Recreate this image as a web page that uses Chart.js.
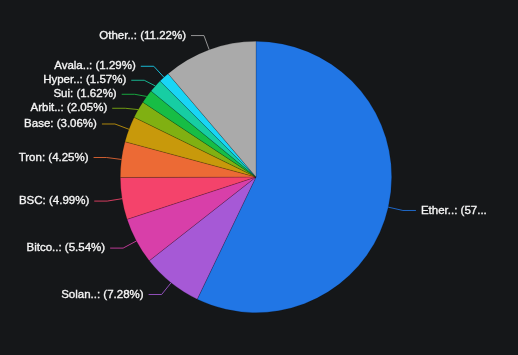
<!DOCTYPE html>
<html>
<head>
<meta charset="utf-8">
<script src="https://cdn.jsdelivr.net/npm/chart.js@4.4.1/dist/chart.umd.min.js"></script>
<style>
  html, body { margin: 0; padding: 0; background: #151719; }
  #wrap { width: 518px; height: 355px; }
</style>
</head>
<body>
<div id="wrap"><canvas id="chart" width="518" height="355"></canvas></div>
<script>
// chain share data
const chains = ['Ethereum', 'Solana', 'Bitcoin', 'BSC', 'Tron', 'Base', 'Arbitrum', 'Sui', 'Hyperliquid', 'Avalanche', 'Others']
const shares = [57.13, 7.28, 5.54, 4.99, 4.25, 3.06, 2.05, 1.62, 1.57, 1.29, 11.22]
const colors = ['#2176e5', '#a659d6', '#d83fa9', '#f4436b', '#ec6a35', '#c8990b', '#80b012', '#17bd45', '#17cda3', '#19d5f5', '#aaaaaa']

function shortName(name) {
    return name.length > 5 ? name.slice(0, 5) + '..' : name
}

/* outside labels with leader lines */
const outLabels = {
    id: 'outLabels',
    afterDraw(chart) {
        const ctx = chart.ctx
        const arcs = chart.getDatasetMeta(0).data
        const len1 = 15, len2 = 13, gap = 5, minGap = 14
        let items = arcs.map((arc, i) => {
            const mid = (arc.startAngle + arc.endAngle) / 2
            const cos = Math.cos(mid), sin = Math.sin(mid)
            const r = arc.outerRadius
            return {
                i: i,
                right: cos >= 0,
                p0: [arc.x + r * cos, arc.y + r * sin],
                p1: [arc.x + (r + len1) * cos, arc.y + (r + len1) * sin],
                y: arc.y + (r + len1) * sin
            }
        })
        // push overlapping labels apart on each side
        for (const side of [true, false]) {
            const list = items.filter(it => it.right === side).sort((a, b) => a.y - b.y)
            for (let k = 1; k < list.length; k++) {
                if (list[k].y - list[k - 1].y < minGap) list[k].y = list[k - 1].y + minGap
            }
        }
        ctx.save()
        ctx.font = '11.5px "Liberation Sans", Arial, sans-serif'
        ctx.textBaseline = 'middle'
        items.forEach(it => {
            const dir = it.right ? 1 : -1
            const x2 = it.p1[0] + dir * len2
            ctx.strokeStyle = colors[it.i]
            ctx.globalAlpha = 0.85
            ctx.lineWidth = 1
            ctx.beginPath()
            ctx.moveTo(it.p0[0], it.p0[1])
            ctx.lineTo(it.p1[0], it.y)
            ctx.lineTo(x2, it.y)
            ctx.stroke()
            ctx.globalAlpha = 1
            let text = shortName(chains[it.i]) + ': (' + shares[it.i].toFixed(2) + '%)'
            const tx = x2 + dir * gap
            const maxW = it.right ? chart.width - tx - 24 : tx
            if (ctx.measureText(text).width > maxW) {
                while (text.length > 1 && ctx.measureText(text + '...').width > maxW) text = text.slice(0, -1)
                text = text.replace(/[.\s]+$/, '') + '...'
            }
            ctx.fillStyle = '#f4f4f4'
            ctx.strokeStyle = '#f4f4f4'
            ctx.lineWidth = 0.35
            ctx.textAlign = it.right ? 'left' : 'right'
            ctx.fillText(text, tx, it.y)
            ctx.strokeText(text, tx, it.y)
        })
        ctx.restore()
    }
}

new Chart(document.getElementById('chart'), {
    type: 'pie',
    data: {
        labels: chains,
        datasets: [{
            data: shares,
            backgroundColor: colors,
            borderColor: 'rgba(0,0,0,0.3)',
            borderWidth: 0.6
        }]
    },
    options: {
        responsive: false,
        animation: false,
        layout: { padding: { left: 0, right: 6, top: 41, bottom: 42 } },
        plugins: {
            legend: { display: false },
            tooltip: { enabled: false }
        }
    },
    plugins: [outLabels]
})
</script>
</body>
</html>
